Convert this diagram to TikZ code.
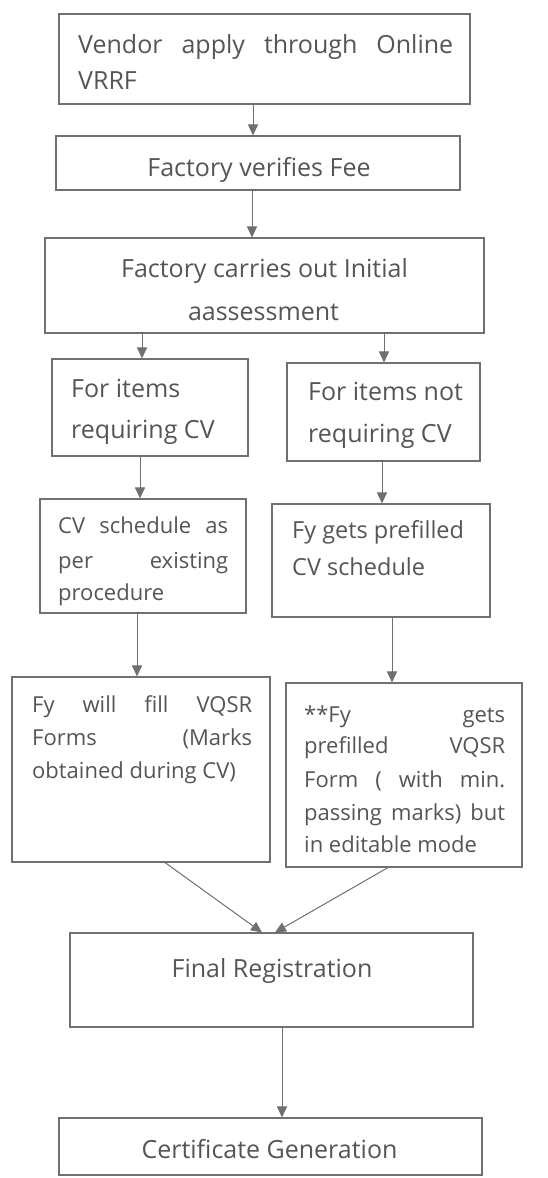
\documentclass[tikz,border=0pt]{standalone}
\usepackage{fontspec}
\setmainfont{Open Sans}
\usetikzlibrary{arrows.meta}
\definecolor{ink}{HTML}{555555}
\definecolor{edge}{HTML}{707070}
\newcommand\jl[2]{\makebox[#1][s]{#2}}
\begin{document}
\begin{tikzpicture}[x=1pt,y=-1pt,
  box/.style={draw=edge, line width=1.1pt, inner sep=0pt, rectangle},
  big/.style={text=ink, inner sep=0pt, font=\fontsize{25}{30}\selectfont},
  small/.style={text=ink, inner sep=0pt, font=\fontsize{22}{26}\selectfont},
  lft/.style={anchor=base west},
  ctr/.style={anchor=base},
  arr/.style={draw=edge, line width=1pt, -{Triangle[width=10pt,length=11pt]}}]
\fill[white] (0,0) rectangle (548,1178);
\useasboundingbox (0,0) rectangle (548,1178);

% boxes
\node[box, minimum width=411pt, minimum height=90pt]  (b1)  at (264.5,59) {};
\node[box, minimum width=404pt, minimum height=54pt]  (b2)  at (258,163) {};
\node[box, minimum width=439pt, minimum height=95pt]  (b3)  at (264.5,285.5) {};
\node[box, minimum width=196pt, minimum height=97pt]  (b4L) at (150,407.5) {};
\node[box, minimum width=193pt, minimum height=98pt]  (b4R) at (383.5,412) {};
\node[box, minimum width=206pt, minimum height=114pt] (b5L) at (143,556) {};
\node[box, minimum width=218pt, minimum height=113pt] (b5R) at (381,560.5) {};
\node[box, minimum width=258pt, minimum height=185pt] (b6L) at (141,769.5) {};
\node[box, minimum width=236pt, minimum height=184pt] (b6R) at (404,775) {};
\node[box, minimum width=403pt, minimum height=94pt]  (b7)  at (271.5,980) {};
\node[box, minimum width=423pt, minimum height=57pt]  (b8)  at (270.5,1146.5) {};

% texts
\node[big,lft] (t1a) at (78,53) {\jl{375pt}{Vendor apply through Online}};
\node[big,lft] (t1b) at (78,89) {VRRF};
\node[big,ctr] (t2)  at (259,176) {Factory verifies Fee};
\node[big,ctr] (t3a) at (264.5,277) {Factory carries out Initial};
\node[big,ctr] (t3b) at (263.5,320) {aassessment};
\node[big,lft] (t4a) at (71,397) {For items};
\node[big,lft] (t4b) at (71,438) {requiring CV};
\node[big,lft] (t4c) at (308,400) {For items not};
\node[big,lft] (t4d) at (308,442) {requiring CV};
\node[small,lft] (t5a) at (58,533) {\jl{170pt}{CV schedule as}};
\node[small,lft] (t5b) at (58,568) {\jl{170pt}{per existing}};
\node[small,lft] (t5c) at (58,600) {procedure};
\node[small,lft,font=\fontsize{23.5}{28}\selectfont] (t5d) at (292,538) {Fy gets prefilled};
\node[small,lft,font=\fontsize{23.5}{28}\selectfont] (t5e) at (292,575) {CV schedule};
\node[small,lft] (t6a) at (32,712) {\jl{220pt}{Fy will fill VQSR}};
\node[small,lft] (t6b) at (32,745) {\jl{220pt}{Forms (Marks}};
\node[small,lft] (t6c) at (32,778) {obtained during CV)};
\node[small,lft] (t6d) at (304,722) {\jl{201pt}{**Fy gets}};
\node[small,lft] (t6e) at (304,753) {\jl{201pt}{prefilled VQSR}};
\node[small,lft] (t6f) at (304,787) {\jl{201pt}{Form ( with min.}};
\node[small,lft] (t6g) at (304,820) {\jl{201pt}{passing marks) but}};
\node[small,lft] (t6h) at (304,852) {in editable mode};
\node[big,ctr] (t7) at (272,977) {Final Registration};
\node[big,ctr] (t8) at (269.5,1158) {Certificate Generation};

% connector columns
\coordinate (c1) at (253,0);
\coordinate (c2) at (252,0);
\coordinate (c3) at (142,0);
\coordinate (c4) at (384,0);
\coordinate (c5) at (140,0);
\coordinate (c6) at (382,0);
\coordinate (c7) at (137,0);
\coordinate (c8) at (392,0);
\coordinate (d1) at (165,0);
\coordinate (d2) at (262,0);
\coordinate (d3) at (388,0);
\coordinate (d4) at (275,0);
\coordinate (c9) at (282,0);

\draw[arr] (b1.south -| c1) -- (b2.north -| c1);
\draw[arr] (b2.south -| c2) -- (b3.north -| c2);
\draw[arr] (b3.south -| c3) -- (b4L.north -| c3);
\draw[arr] (b3.south -| c4) -- (b4R.north -| c4);
\draw[arr] (b4L.south -| c5) -- (b5L.north -| c5);
\draw[arr] (b4R.south -| c6) -- (b5R.north -| c6);
\draw[arr] (b5L.south -| c7) -- (b6L.north -| c7);
\draw[arr] (b5R.south -| c8) -- (b6R.north -| c8);
\draw[arr] (b6L.south -| d1) -- (b7.north -| d2);
\draw[arr] (b6R.south -| d3) -- (b7.north -| d4);
\draw[arr] (b7.south -| c9) -- (b8.north -| c9);
\end{tikzpicture}
\end{document}
